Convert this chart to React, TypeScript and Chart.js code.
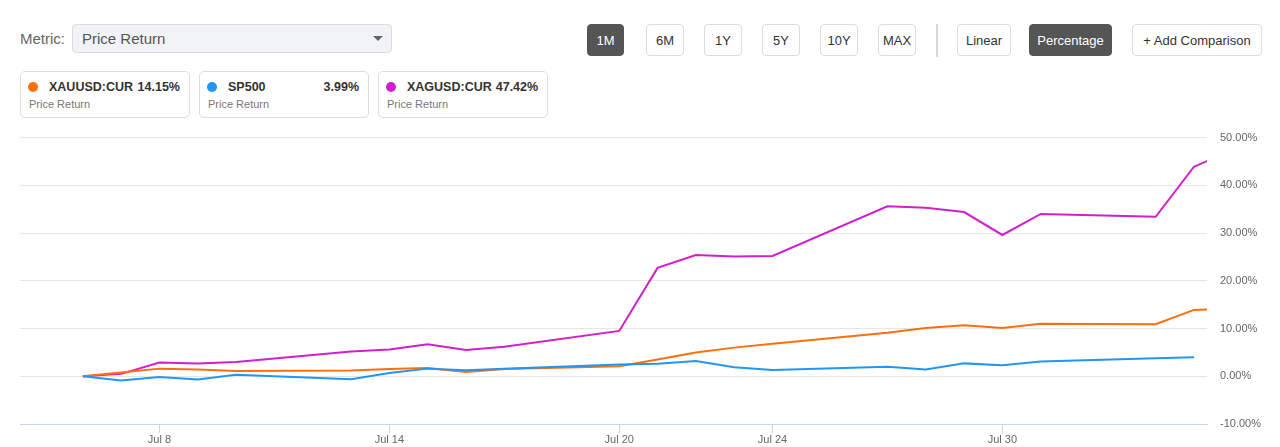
import React, { useEffect, useRef } from "react";
import { Chart, registerables } from "chart.js";

Chart.register(...registerables);

// ---- Data ----
const dates: string[] = [
  "2020-07-06", "2020-07-07", "2020-07-08", "2020-07-09", "2020-07-10",
  "2020-07-13", "2020-07-14", "2020-07-15", "2020-07-16", "2020-07-17",
  "2020-07-20", "2020-07-21", "2020-07-22", "2020-07-23", "2020-07-24",
  "2020-07-27", "2020-07-28", "2020-07-29", "2020-07-30", "2020-07-31",
  "2020-08-03", "2020-08-04", "2020-08-05",
];

const xauValues: (number | null)[] = [
  0, 0.8, 1.6, 1.4, 1.1,
  1.2, 1.5, 1.75, 0.9, 1.5,
  2.1, 3.5, 5.0, 6.0, 6.8,
  9.1, 10.1, 10.7, 10.1, 11.0,
  10.9, 13.9, 14.15,
];

const spValues: (number | null)[] = [
  0, -0.9, -0.15, -0.7, 0.3,
  -0.6, 0.7, 1.6, 1.26, 1.6,
  2.45, 2.6, 3.2, 1.9, 1.3,
  2.0, 1.4, 2.7, 2.3, 3.1,
  3.8, 3.99, null,
];

const xagValues: (number | null)[] = [
  0, 0.5, 2.9, 2.7, 3.0,
  5.2, 5.6, 6.7, 5.5, 6.2,
  9.5, 22.7, 25.4, 25.1, 25.2,
  35.6, 35.3, 34.4, 29.6, 34.0,
  33.4, 43.9, 47.42,
];

const xTickDates: string[] = ["2020-07-08", "2020-07-14", "2020-07-20", "2020-07-24", "2020-07-30"];
const xTickLabels: string[] = ["Jul 8", "Jul 14", "Jul 20", "Jul 24", "Jul 30"];
const yTickValues: number[] = [-10, 0, 10, 20, 30, 40, 50];

const seriesNames: string[] = ["XAUUSD:CUR", "SP500", "XAGUSD:CUR"];
const seriesTotals: string[] = ["14.15%", "3.99%", "47.42%"];
const seriesColors: string[] = ["#fd6f0d", "#2196f3", "#d11fcb"];

const rangeButtons: string[] = ["1M", "6M", "1Y", "5Y", "10Y", "MAX"];
const scaleButtons: string[] = ["Linear", "Percentage"];

// ---- helpers ----
const BASE = Date.UTC(2020, 6, 0); // day numbers: Jul 1 = 1
const dayNum = (iso: string) => {
  const [y, m, d] = iso.split("-").map(Number);
  return (Date.UTC(y, m - 1, d) - BASE) / 86400000;
};

const FONT = '"Liberation Sans", Arial, Helvetica, sans-serif';

function ChartCanvas() {
  const ref = useRef<HTMLCanvasElement | null>(null);
  useEffect(() => {
    if (!ref.current) return;
    const xs = dates.map(dayNum);
    const mk = (vals: (number | null)[], color: string, label: string) => ({
      label,
      data: xs.map((x, i) => ({ x, y: vals[i] })).filter((p) => p.y !== null),
      borderColor: color,
      backgroundColor: color,
      borderWidth: 2,
      pointRadius: 0,
      pointHoverRadius: 0,
      tension: 0,
      fill: false,
    });
    const tickDays = xTickDates.map(dayNum);
    const chart = new Chart(ref.current, {
      type: "line",
      data: {
        datasets: [
          mk(spValues, seriesColors[1], seriesNames[1]),
          mk(xauValues, seriesColors[0], seriesNames[0]),
          mk(xagValues, seriesColors[2], seriesNames[2]),
        ],
      },
      options: {
        animation: false,
        responsive: false,
        maintainAspectRatio: false,
        layout: { padding: { left: 20, top: 9, right: 0, bottom: 0 } },
        plugins: { legend: { display: false }, tooltip: { enabled: false } },
        scales: {
          x: {
            type: "linear",
            min: 4.36,
            max: 35.34,
            afterBuildTicks: (s: any) => {
              s.ticks = tickDays.map((v) => ({ value: v }));
            },
            afterFit: (s: any) => {
              s.height = 23;
            },
            ticks: {
              autoSkip: false,
              maxRotation: 0,
              padding: 0,
              color: "#666666",
              font: { family: FONT, size: 11 },
              callback: (v: any) => {
                const i = tickDays.indexOf(Number(v));
                return i >= 0 ? xTickLabels[i] : "";
              },
            },
            grid: { drawOnChartArea: false, drawTicks: true, tickLength: 9, color: "#ccd6eb" },
            border: { color: "#ccd6eb", width: 1 },
          },
          y: {
            position: "right",
            min: -10,
            max: 50,
            afterBuildTicks: (s: any) => {
              s.ticks = yTickValues.map((v) => ({ value: v }));
            },
            afterFit: (s: any) => {
              s.width = 73;
            },
            ticks: {
              padding: 13,
              color: "#666666",
              font: { family: FONT, size: 11 },
              callback: (v: any) => Number(v).toFixed(2) + "%",
            },
            grid: { color: "#e6e6e6", drawTicks: false },
            border: { display: false },
          },
        },
      },
    } as any);
    return () => chart.destroy();
  }, []);
  return <canvas ref={ref} width={1280} height={329} style={{ display: "block" }} />;
}

const btnBase: React.CSSProperties = {
  position: "absolute",
  top: 24,
  height: 32,
  boxSizing: "border-box",
  border: "1px solid #dddddd",
  borderRadius: 4,
  background: "#ffffff",
  color: "#333333",
  fontSize: 13,
  fontFamily: FONT,
  display: "flex",
  alignItems: "center",
  justifyContent: "center",
};

export default function App() {
  const rangeLefts = [587, 646, 704, 762, 820, 878];
  const rangeWidths = [37, 38, 38, 38, 38, 38];
  const scaleLefts = [957, 1029];
  const scaleWidths = [54, 83];
  const cardLefts = [20, 199, 378];
  return (
    <div style={{ position: "relative", width: 1280, height: 447, fontFamily: FONT, background: "#fff", overflow: "hidden" }}>
      <style>{`body{margin:0;}`}</style>
      {/* Metric selector */}
      <div style={{ position: "absolute", left: 20, top: 29, fontSize: 15, color: "#666", lineHeight: "20px" }}>Metric:</div>
      <div
        style={{
          position: "absolute",
          left: 72,
          top: 24,
          width: 320,
          height: 29,
          boxSizing: "border-box",
          border: "1px solid #d8dbe0",
          borderRadius: 4,
          background: "#f1f3f6",
        }}
      >
        <div style={{ position: "absolute", left: 9, top: 4, fontSize: 15, color: "#555", lineHeight: "20px" }}>Price Return</div>
        <div
          style={{
            position: "absolute",
            left: 300,
            top: 11,
            width: 0,
            height: 0,
            borderLeft: "5px solid transparent",
            borderRight: "5px solid transparent",
            borderTop: "5px solid #666",
          }}
        />
      </div>

      {/* Range buttons */}
      {rangeButtons.map((b, i) => (
        <div
          key={b}
          style={{
            ...btnBase,
            left: rangeLefts[i],
            width: rangeWidths[i],
            ...(i === 0 ? { background: "#555555", color: "#fff", border: "1px solid #555555" } : {}),
          }}
        >
          {b}
        </div>
      ))}
      <div style={{ position: "absolute", left: 936, top: 24, width: 2, height: 33, background: "#d6d6d6" }} />
      {scaleButtons.map((b, i) => (
        <div
          key={b}
          style={{
            ...btnBase,
            left: scaleLefts[i],
            width: scaleWidths[i],
            ...(i === 1 ? { background: "#555555", color: "#fff", border: "1px solid #555555" } : {}),
          }}
        >
          {b}
        </div>
      ))}
      <div style={{ ...btnBase, left: 1132, width: 130 }}>+ Add Comparison</div>

      {/* Legend cards */}
      {seriesNames.map((n, i) => (
        <div
          key={n}
          style={{
            position: "absolute",
            left: cardLefts[i],
            top: 71,
            width: 170,
            height: 47,
            boxSizing: "border-box",
            border: "1px solid #dddddd",
            borderRadius: 5,
            background: "#fff",
          }}
        >
          <div
            style={{
              position: "absolute",
              left: 7,
              top: 10,
              width: 10,
              height: 10,
              borderRadius: "50%",
              background: seriesColors[i],
            }}
          />
          <div
            style={{
              position: "absolute",
              left: 28,
              right: 9,
              top: 7,
              height: 17,
              display: "flex",
              justifyContent: "space-between",
              gap: 4,
              fontSize: 12.5,
              fontWeight: "bold",
              color: "#333",
              lineHeight: "17px",
              whiteSpace: "nowrap",
            }}
          >
            <span>{n}</span>
            <span>{seriesTotals[i]}</span>
          </div>
          <div style={{ position: "absolute", left: 8, top: 25, fontSize: 11, color: "#777", lineHeight: "14px" }}>
            Price Return
          </div>
        </div>
      ))}

      {/* Chart */}
      <div style={{ position: "absolute", left: 0, top: 118, width: 1280, height: 329 }}>
        <ChartCanvas />
      </div>
    </div>
  );
}
